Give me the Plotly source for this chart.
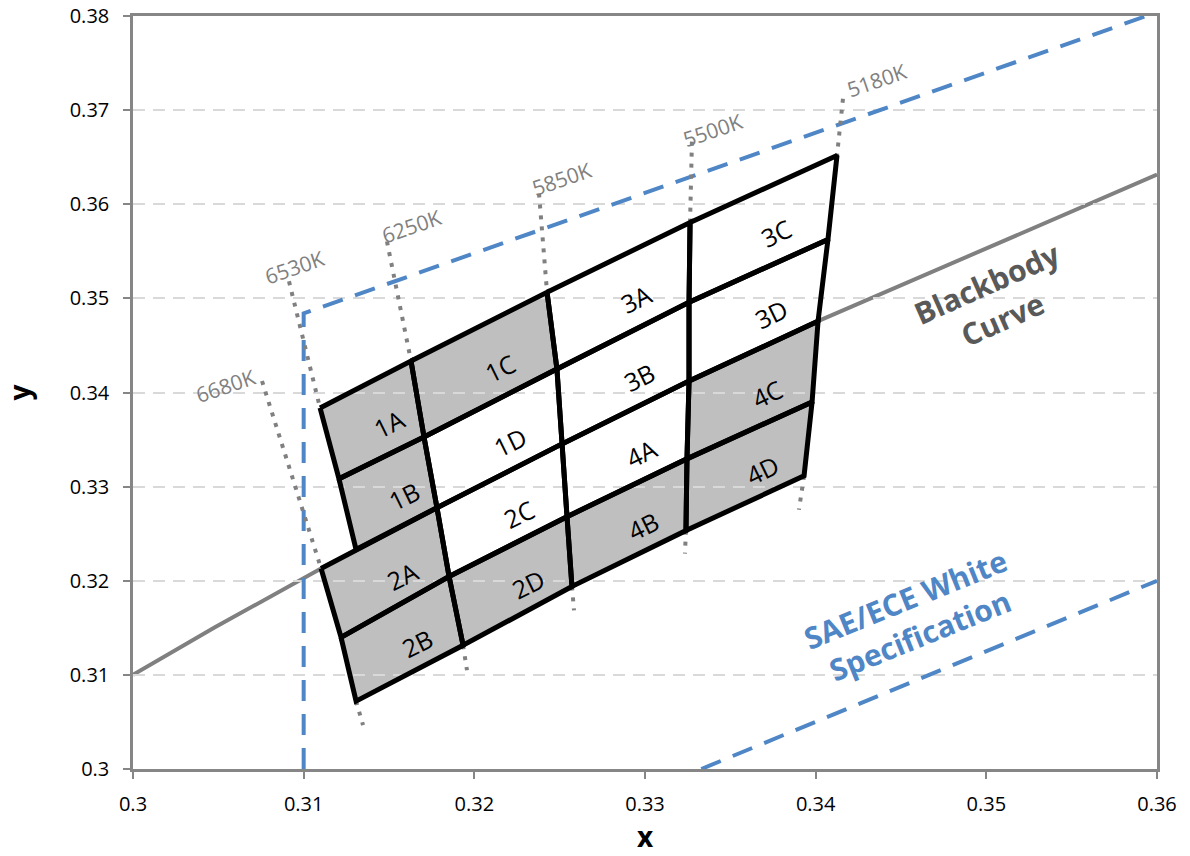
import plotly.graph_objects as go

# ---------------- data (CIE 1931 chromaticity x, y) ----------------
# Planckian (blackbody) locus
bb_x = [0.3000, 0.3048, 0.31102, 0.31781, 0.32514, 0.33258, 0.34014, 0.3600]
bb_y = [0.3100, 0.31505, 0.32130, 0.32776, 0.33454, 0.34122, 0.34758, 0.36315]

# SAE/ECE white specification boundaries
sae_upper_x = [0.3100, 0.3100, 0.3600]
sae_upper_y = [0.3000, 0.3484, 0.3804]
sae_lower_x = [0.3333, 0.3600]
sae_lower_y = [0.3000, 0.3200]

# Bin grid: row boundary lines (top to bottom); each lists its points on the
# successive CCT column lines (left to right)
row_x = [
    [0.31096, 0.31629, 0.32426, 0.33264, 0.34125],
    [0.31207, 0.31705, 0.32484, 0.33258, 0.34072],
    [0.31102, 0.31781, 0.32514, 0.33258, 0.34014],
    [0.31219, 0.31852, 0.32543, 0.33246, 0.33979],
    [0.31307, 0.31934, 0.32572, 0.33240, 0.33932],
]
row_y = [
    [0.33836, 0.34334, 0.35065, 0.35807, 0.36517],
    [0.33083, 0.33528, 0.34249, 0.34959, 0.35626],
    [0.32130, 0.32776, 0.33454, 0.34122, 0.34758],
    [0.31399, 0.32045, 0.32681, 0.33295, 0.33899],
    [0.30721, 0.31314, 0.31939, 0.32533, 0.33115],
]
# the upper-left bins (1A/1B) end on the 6530K line, meeting row line 2 here
upper_left_end_x = 0.31307
upper_left_end_y = 0.32331

bin_names = [
    ["1A", "1C", "3A", "3C"],
    ["1B", "1D", "3B", "3D"],
    ["2A", "2C", "4A", "4C"],
    ["2B", "2D", "4B", "4D"],
]
bin_shaded = [
    [True, True, False, False],
    [True, False, False, False],
    [True, False, False, True],
    [True, True, True, True],
]

# CCT isotherm lines: outer end points, and which grid corner they meet
cct_labels = ["6680K", "6530K", "6250K", "5850K", "5500K", "5180K"]
cct_top_x = [0.30756, 0.30914, 0.31488, 0.32379, 0.33275, 0.34160]
cct_top_y = [0.34122, 0.35181, 0.35605, 0.36114, 0.36665, 0.37121]
cct_top_corner = [(2, 0), (0, 0), (0, 1), (0, 2), (0, 3), (0, 4)]
cct_bot_x = [0.31348, None, 0.31957, 0.32584, 0.33234, 0.33902]
cct_bot_y = [0.30466, None, 0.31049, 0.31685, 0.32289, 0.32755]
cct_bot_corner = [(4, 0), None, (4, 1), (4, 2), (4, 3), (4, 4)]

x_ticks = [0.30, 0.31, 0.32, 0.33, 0.34, 0.35, 0.36]
y_ticks = [0.30, 0.31, 0.32, 0.33, 0.34, 0.35, 0.36, 0.37, 0.38]

# ---------------- styles ----------------
FONT = "Open Sans"
GRAY_FILL = "#BFBFBF"
BB_COLOR = "#808080"
SAE_COLOR = "#4F86C6"
CCT_COLOR = "#808080"
AXIS_COLOR = "#868686"
# label offsets (px) for the CCT labels relative to the line ends
cct_label_shift = [(-37, -5), (6, 14), (25, 15), (22, 15), (21, 12), (34, 19)]


def corner(r, c):
    return row_x[r][c], row_y[r][c]


def cell_corners(r, c):
    tl = corner(r, c)
    tr = corner(r, c + 1)
    br = corner(r + 1, c + 1)
    bl = corner(r + 1, c)
    if r == 1 and c == 0:
        bl = (upper_left_end_x, upper_left_end_y)
    return [tl, tr, br, bl]


fig = go.Figure()
shapes = []
annotations = []

# blackbody curve (beneath the bins, which hide it)
bb_path = "M " + " L ".join(f"{x},{y}" for x, y in zip(bb_x, bb_y))
shapes.append(dict(type="path", xref="x", yref="y", path=bb_path,
                   line=dict(color=BB_COLOR, width=4), layer="below"))

# bin fills (under gridlines, like the original)
for r in range(4):
    for c in range(4):
        pts = cell_corners(r, c)
        path = "M " + " L ".join(f"{x},{y}" for x, y in pts) + " Z"
        shapes.append(dict(type="path", xref="x", yref="y", path=path,
                           fillcolor=GRAY_FILL if bin_shaded[r][c] else "white",
                           line=dict(width=0), layer="below"))

# SAE/ECE dashed boundaries
for xs, ys in [(sae_upper_x, sae_upper_y), (sae_lower_x, sae_lower_y)]:
    fig.add_trace(go.Scatter(x=xs, y=ys, mode="lines", hoverinfo="skip",
                             line=dict(color=SAE_COLOR, width=4, dash="21px,13px"),
                             showlegend=False))

# CCT dotted lines
for i, lab in enumerate(cct_labels):
    r, c = cct_top_corner[i]
    fig.add_trace(go.Scatter(x=[cct_top_x[i], row_x[r][c]], y=[cct_top_y[i], row_y[r][c]],
                             mode="lines", hoverinfo="skip", showlegend=False,
                             line=dict(color=CCT_COLOR, width=4, dash="4px,7px")))
    if cct_bot_corner[i] is not None:
        r, c = cct_bot_corner[i]
        fig.add_trace(go.Scatter(x=[row_x[r][c], cct_bot_x[i]], y=[row_y[r][c], cct_bot_y[i]],
                                 mode="lines", hoverinfo="skip", showlegend=False,
                                 line=dict(color=CCT_COLOR, width=4, dash="4px,7px")))
    dx, dy = cct_label_shift[i]
    annotations.append(dict(x=cct_top_x[i], y=cct_top_y[i], xref="x", yref="y",
                            text=lab, showarrow=False, textangle=-19,
                            xshift=dx, yshift=dy,
                            font=dict(family=FONT, size=21, color=CCT_COLOR)))

# bin outlines and labels
for r in range(4):
    for c in range(4):
        pts = cell_corners(r, c)
        xs = [p[0] for p in pts] + [pts[0][0]]
        ys = [p[1] for p in pts] + [pts[0][1]]
        fig.add_trace(go.Scatter(x=xs, y=ys, mode="lines", hoverinfo="skip",
                                 showlegend=False,
                                 line=dict(color="black", width=5)))
        cx = sum(p[0] for p in pts) / 4
        cy = sum(p[1] for p in pts) / 4
        annotations.append(dict(x=cx, y=cy, xref="x", yref="y", text=bin_names[r][c],
                                showarrow=False, textangle=-26, xshift=15, yshift=-3,
                                font=dict(family=FONT, size=25, color="black")))

# callout texts
annotations.append(dict(x=0.35050, y=0.34970, xref="x", yref="y",
                        text="Blackbody<br>Curve", showarrow=False, textangle=-24,
                        font=dict(family=FONT, size=30, color="#595959", weight="bold")))
annotations.append(dict(x=0.34572, y=0.31610, xref="x", yref="y",
                        text="SAE/ECE White<br>Specification", showarrow=False, textangle=-22,
                        font=dict(family=FONT, size=30, color=SAE_COLOR, weight="bold")))

fig.update_layout(
    width=1190, height=856,
    margin=dict(l=133, r=33, t=16, b=87),
    paper_bgcolor="white", plot_bgcolor="white",
    shapes=shapes, annotations=annotations,
    font=dict(family=FONT, size=20, color="black"),
    xaxis=dict(range=[0.30, 0.36], tickvals=x_ticks, ticktext=[f"{v:g}" for v in x_ticks],
               showgrid=False, zeroline=False, automargin=False,
               showline=True, linecolor=AXIS_COLOR, linewidth=2.5, mirror=True,
               ticks="outside", ticklen=7, tickcolor=AXIS_COLOR, tickwidth=2,
               ticklabelstandoff=8, ticklabeloverflow="allow",
               tickfont=dict(family=FONT, size=20, color="black"),
               title=dict(text="<b>x</b>", font=dict(family=FONT, size=28, color="black"),
                          standoff=6)),
    yaxis=dict(range=[0.30, 0.38], tickvals=y_ticks, ticktext=[f"{v:g}" for v in y_ticks],
               showgrid=True, gridcolor="#D9D9D9", gridwidth=2, griddash="12px,8px",
               zeroline=False, automargin=False,
               showline=True, linecolor=AXIS_COLOR, linewidth=2.5, mirror=True,
               ticks="outside", ticklen=7, tickcolor=AXIS_COLOR, tickwidth=2,
               ticklabelstandoff=10, ticklabeloverflow="allow",
               tickfont=dict(family=FONT, size=20, color="black"),
               title=dict(text="<b>y</b>", font=dict(family=FONT, size=28, color="black"),
                          standoff=34)),
)

fig.write_html("out.html")
